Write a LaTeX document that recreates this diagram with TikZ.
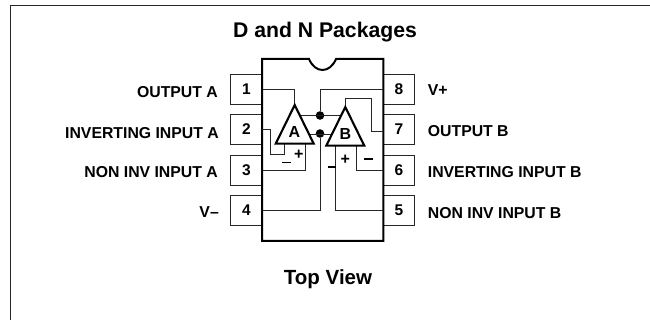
\documentclass[tikz,border=0pt]{standalone}
\usepackage{fontspec}
\setmainfont{Liberation Sans}
\tikzset{
  x=1pt,y=-1pt,
  pinbox/.style={draw=black!85,line width=0.9pt,minimum width=31.5pt,minimum height=30pt,inner sep=0pt,font=\bfseries\fontsize{15.5}{15}\selectfont},
  wire/.style={draw=black!85,line width=0.9pt},
  pkg/.style={draw=black,line width=2pt},
  amp/.style={draw=black,line width=2.1pt,fill=white,line join=miter},
  lab/.style={inner sep=0pt,font=\bfseries\fontsize{15.8}{18}\selectfont},
  ttl/.style={inner sep=0pt,font=\bfseries\fontsize{21.2}{23}\selectfont},
  ttlb/.style={inner sep=0pt,font=\bfseries\fontsize{20.5}{23}\selectfont},
  sgn/.style={inner sep=0pt,font=\bfseries\fontsize{16}{15}\selectfont},
  ampname/.style={inner sep=0pt,font=\bfseries\fontsize{16}{15}\selectfont},
  dotnode/.style={circle,fill=black,inner sep=0pt,minimum size=8.6pt},
}
\begin{document}
\begin{tikzpicture}
\useasboundingbox (0,0) rectangle (650,320);
\fill[white] (0,0) rectangle (650,320);
\draw[black!85,line width=1pt] (10,320) -- (10,5.5) -- (650,5.5);
\node[ttl] (title) at (325,32) {D and N Packages};
\node[ttlb] (bottom) at (328,279) {Top View};
% pins
\node[pinbox] (p1) at (246.5,89.3) {1};
\node[pinbox] (p2) at (246.5,129.3) {2};
\node[pinbox] (p3) at (246.5,170) {3};
\node[pinbox] (p4) at (246.5,210.3) {4};
\node[pinbox] (p8) at (399,89.3) {8};
\node[pinbox] (p7) at (399,129.3) {7};
\node[pinbox] (p6) at (399,170) {6};
\node[pinbox] (p5) at (399,210.3) {5};
% package
\path[pkg,fill=white] (262,59) -- (309,59) .. controls (312,66) and (317,70) .. (322.5,70) .. controls (328,70) and (333,66) .. (336,59) -- (383.3,59) -- (383.3,241) -- (262,241) -- cycle;
% triangle corners
\coordinate (Aa) at (294.7,105);
\coordinate (Bb) at (345.3,107);
\node[dotnode] (d1) at (320,115.5) {};
\node[dotnode] (d2) at (320,133.5) {};
% wires
\draw[wire] (p1.east) -| (Aa);
\draw[wire] (d1) |- (p8.west);
\draw[wire] (d2) |- (p4.east);
\draw[wire] (Bb) -- (345.3,98.3) -| (371,131.3) -- (383.3,131.3);
\draw[wire] (300,115.5) -- (340,115.5);
\draw[wire] (305,134) -- (335,134);
\draw[wire] (262,129.3) -- (270.7,129.3) -- (270.7,154) -- (284.3,154) -- (284.3,143.7);
\draw[wire] (p3.east) -| (305,143.7);
\draw[wire] (356,145.7) |- (p6.west);
\draw[wire] (335.3,145.7) |- (p5.west);
% amplifiers
\draw[amp] (Aa) -- (313.7,143.7) -- (275.7,143.7) -- cycle;
\draw[amp] (Bb) -- (364.3,145.7) -- (326.3,145.7) -- cycle;
\node[ampname] (na) at (294.5,132) {A};
\node[ampname] (nb) at (345.3,133.5) {B};
% signs
\draw[black,line width=1.5pt] (282,162.5) -- (290.5,162.5);
\draw[black,line width=1.5pt] (327.5,167) -- (336,167);
\draw[black,line width=1.5pt] (364,159) -- (372.5,159);
\node[sgn] (pa) at (298.7,155) {+};
\node[sgn] (pb) at (345.3,160) {+};
% labels
\node[lab,anchor=east] (l1) at (218,92) {OUTPUT A};
\node[lab,anchor=east] (l2) at (219,133) {INVERTING INPUT A};
\node[lab,anchor=east] (l3) at (218,171.7) {NON INV INPUT A};
\node[lab,anchor=east] (l4) at (219,212) {V--};
\node[lab,anchor=west] (r8) at (427.7,90) {V+};
\node[lab,anchor=west] (r7) at (427.7,130.7) {OUTPUT B};
\node[lab,anchor=west] (r6) at (427.7,171.7) {INVERTING INPUT B};
\node[lab,anchor=west] (r5) at (427.7,212.7) {NON INV INPUT B};
\end{tikzpicture}
\end{document}
